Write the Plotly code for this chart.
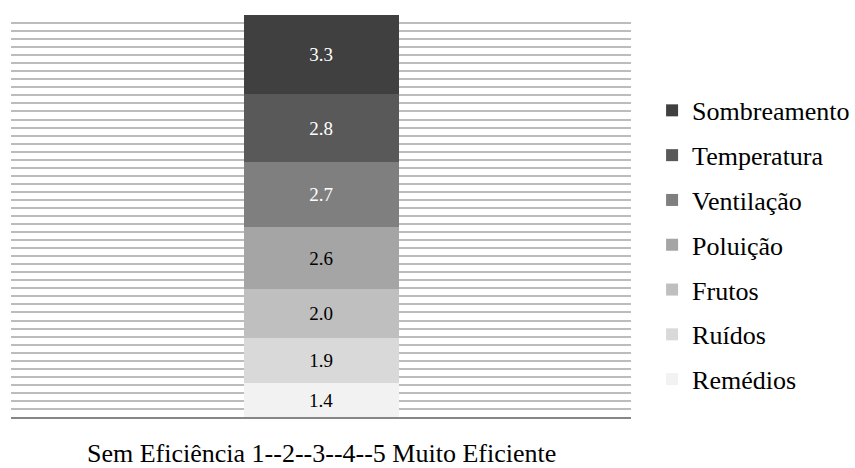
import plotly.graph_objects as go

categories = ["Sem Eficiência 1--2--3--4--5 Muito Eficiente"]
series_names = ["Remédios", "Ruídos", "Frutos", "Poluição", "Ventilação", "Temperatura", "Sombreamento"]
series_values = [1.4, 1.9, 2.0, 2.6, 2.7, 2.8, 3.3]
colors = ["#f2f2f2", "#d9d9d9", "#bfbfbf", "#a5a5a5", "#7f7f7f", "#595959", "#404040"]
text_colors = ["#000000", "#000000", "#000000", "#000000", "#ffffff", "#ffffff", "#ffffff"]

fig = go.Figure()
n = len(series_names)
for i, (name, val, col, tcol) in enumerate(zip(series_names, series_values, colors, text_colors)):
    fig.add_trace(go.Bar(
        x=[0], y=[val], name=name, legendgroup=name, legendrank=n - i,
        marker=dict(color=col, line=dict(width=0)),
        width=0.25,
        text=[f"{val:.1f}"], textposition="inside", insidetextanchor="middle",
        textfont=dict(family="Liberation Serif", size=19, color=tcol),
        hoverinfo="skip",
    ))

total = sum(series_values)
fig.update_layout(
    barmode="stack",
    width=855, height=468,
    margin=dict(l=11, r=224, t=15, b=51, autoexpand=False),
    paper_bgcolor="white", plot_bgcolor="white",
    font=dict(family="Liberation Serif", color="#000000"),
    uniformtext=dict(minsize=8, mode="show"),
    xaxis=dict(range=[-0.5, 0.5], showticklabels=False, showgrid=False, zeroline=False,
               showline=True, linecolor="#868686", linewidth=2, ticks=""),
    yaxis=dict(range=[0, total], showticklabels=False, showgrid=True,
               gridcolor="#bcbcbc", gridwidth=1.5, tick0=0, dtick=total / 50,
               zeroline=False, showline=False, ticks=""),
    legend=dict(traceorder="grouped", tracegroupgap=8,
                x=1.034, xanchor="left", y=0.428, yanchor="middle",
                font=dict(family="Liberation Serif", size=26, color="#000000"),
                itemwidth=30, bgcolor="rgba(0,0,0,0)"),
    showlegend=True,
    annotations=[dict(text=categories[0], x=0.5, xref="paper",
                      y=-(437 - 417) / 402, yref="paper",
                      showarrow=False, font=dict(family="Liberation Serif", size=26, color="#000000"),
                      xanchor="center", yanchor="top")],
)

fig.write_html("out.html")
